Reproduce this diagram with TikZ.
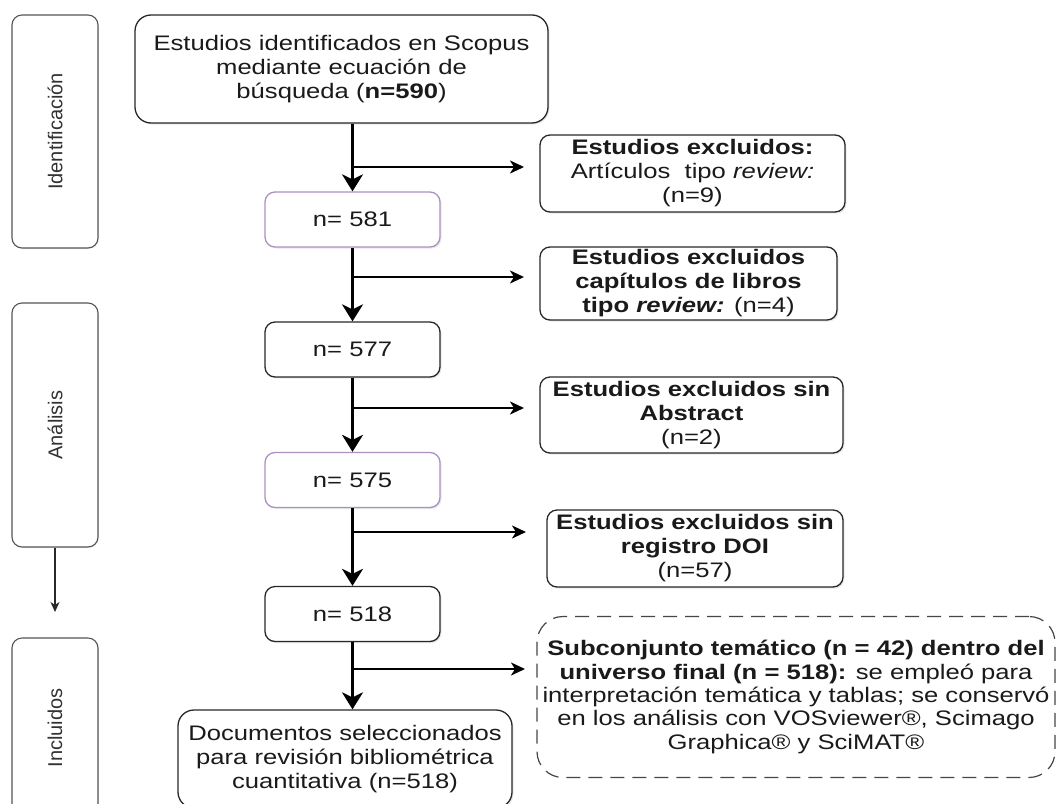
\documentclass[tikz,border=0pt]{standalone}
\usepackage{fontspec}
\setmainfont{Liberation Sans}[FakeStretch=1.22]
\newfontfamily\sidefont{Liberation Sans}
\usetikzlibrary{arrows.meta,shadows}
\definecolor{txt}{RGB}{26,26,26}
\definecolor{bord}{RGB}{40,40,40}
\definecolor{purp}{RGB}{172,145,192}
\definecolor{sideb}{RGB}{85,85,85}
\definecolor{sidet}{RGB}{50,50,50}
\definecolor{dashc}{RGB}{70,70,70}
\begin{document}
\begin{tikzpicture}[x=1pt,y=-1pt,
  every node/.style={text=txt, font=\fontsize{21}{24}\selectfont, align=center, inner sep=0pt},
  box/.style={draw=bord, line width=1.3pt, rounded corners=10pt, fill=white,
    drop shadow={shadow xshift=1.5pt,shadow yshift=-1.5pt,opacity=0.18}},
  nbox/.style={box, minimum width=175pt, minimum height=55pt},
  pbox/.style={nbox, draw=purp},
  sidebox/.style={draw=sideb, line width=1.1pt, rounded corners=10pt, fill=white, rotate=90,
    minimum height=86pt, text=sidet, font=\sidefont\fontsize{20}{24}\selectfont,
    drop shadow={shadow xshift=1pt,shadow yshift=-1pt,opacity=0.12}},
  dashbox/.style={draw=dashc, line width=1.2pt, dash pattern=on 14pt off 8pt, rounded corners=26pt, fill=white},
  mainarrow/.style={line width=2.6pt, -{Stealth[length=17pt,width=21pt,inset=5pt]}},
  sidearrow/.style={line width=2pt, -{Stealth[length=14pt,width=13pt,inset=4pt]}},
  thinarrow/.style={line width=1.2pt, draw=bord, -{Stealth[length=10pt,width=9pt,inset=3pt]}}
]
\useasboundingbox (0,0) rectangle (1056,803);

% side phase boxes
\node[sidebox, minimum width=233pt] (ide) at (55,131.5) {Identificación};
\node[sidebox, minimum width=244pt] (ana) at (55,425) {Análisis};
\node[sidebox, minimum width=180pt] (inc) at (55,728) {Incluidos};
\coordinate (anaend) at (55,612);
\draw[thinarrow] (ana.west) -- (anaend);

% main column
\node[box, rounded corners=16pt, minimum width=413pt, minimum height=108pt] (top) at (341.5,69)
  {Estudios identificados en Scopus\\mediante ecuación de\\búsqueda (\textbf{n=590})};
\node[pbox] (n581) at (352.5,219.5) {n= 581};
\node[nbox] (n577) at (352.5,349.5) {n= 577};
\node[pbox] (n575) at (352.5,480) {n= 575};
\node[nbox] (n518) at (352.5,614) {n= 518};
\node[box, rounded corners=16pt, minimum width=334pt, minimum height=98pt] (fin) at (345,759)
  {Documentos seleccionados\\para revisión bibliométrica\\cuantitativa (n=518)};

% exclusion boxes
\node[box, minimum width=305pt, minimum height=77pt] (e1) at (692.5,173.5)
  {\textbf{Estudios excluidos:}\\Artículos\ \ tipo \textit{review:}\\(n=9)};
\node[box, minimum width=297pt, minimum height=73pt] (e2) at (688.5,283.5)
  {\textbf{Estudios excluidos}\\\textbf{capítulos de libros}\\\textbf{tipo \textit{review:}} (n=4)};
\node[box, minimum width=303pt, minimum height=76pt] (e3) at (691.5,415)
  {\textbf{Estudios excluidos sin}\\\textbf{Abstract}\\(n=2)};
\node[box, minimum width=296pt, minimum height=77pt] (e4) at (695,548.5)
  {\textbf{Estudios excluidos sin}\\\textbf{registro DOI}\\(n=57)};
\node[dashbox, minimum width=518pt, minimum height=161pt, font=\fontsize{21}{23.3}\selectfont] (sub) at (796,697)
  {\textbf{Subconjunto temático (n = 42) dentro del}\\\textbf{universo final (n = 518):} se empleó para\\interpretación temática y tablas; se conservó\\en los análisis con VOSviewer®, Scimago\\Graphica® y SciMAT®};

% main arrows
\draw[mainarrow] (n581.north |- top.south) -- (n581.north);
\draw[mainarrow] (n581.south) -- (n577.north);
\draw[mainarrow] (n577.south) -- (n575.north);
\draw[mainarrow] (n575.south) -- (n518.north);
\draw[mainarrow] (n518.south) -- (n518.south |- fin.north);

% branch arrows
\coordinate (b1) at (352.5,167);  \coordinate (t1) at (524,167);
\coordinate (b2) at (352.5,277);  \coordinate (t2) at (524,277);
\coordinate (b3) at (352.5,408);  \coordinate (t3) at (524,408);
\coordinate (b4) at (352.5,532);  \coordinate (t4) at (526,532);
\coordinate (b5) at (352.5,669);  \coordinate (t5) at (525,669);
\draw[sidearrow] (b1) -- (t1);
\draw[sidearrow] (b2) -- (t2);
\draw[sidearrow] (b3) -- (t3);
\draw[sidearrow] (b4) -- (t4);
\draw[sidearrow] (b5) -- (t5);
\end{tikzpicture}
\end{document}
